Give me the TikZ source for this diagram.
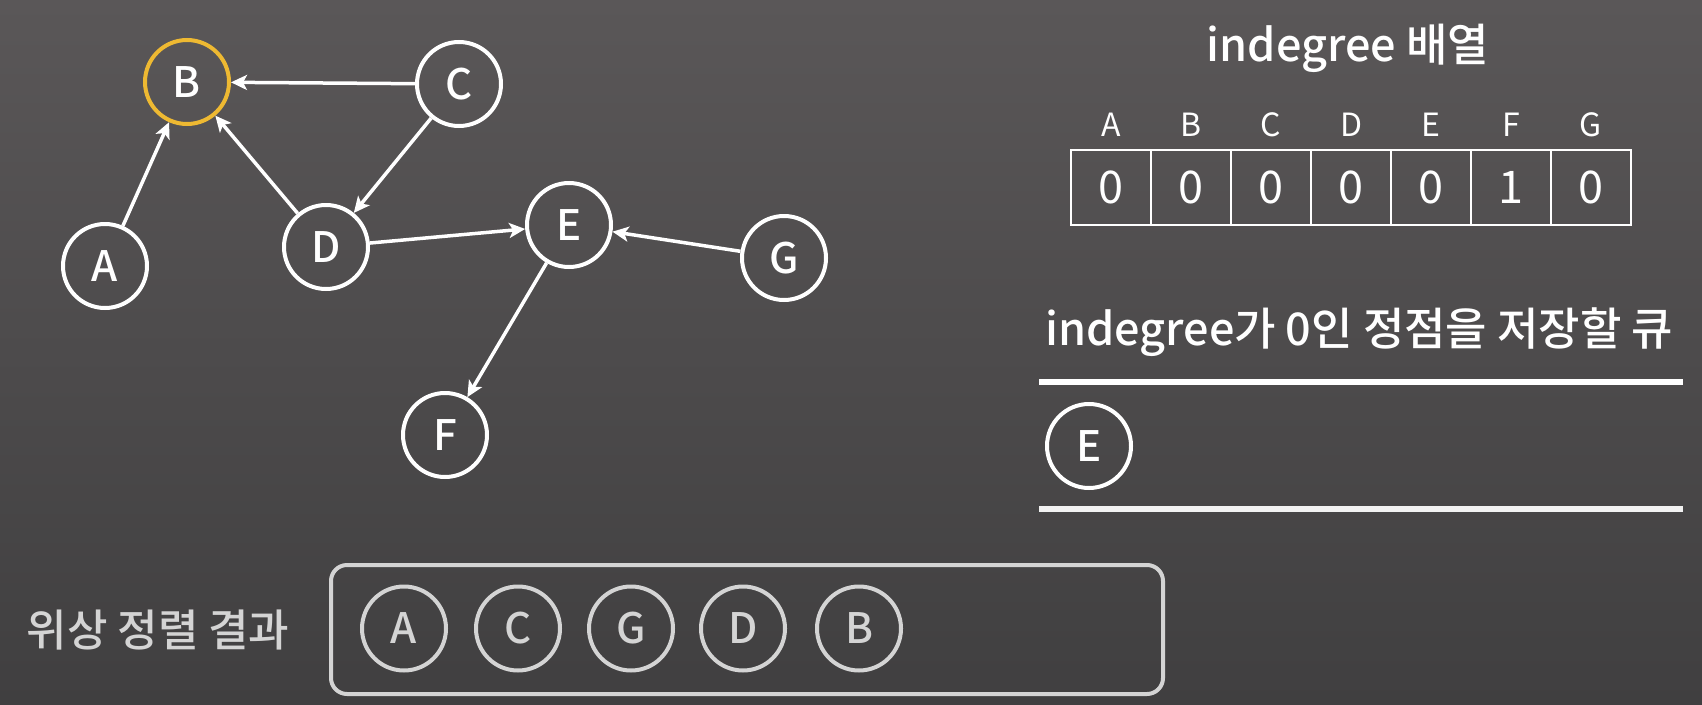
\documentclass[tikz,border=0pt]{standalone}
\usepackage{fontspec}
\setmainfont{Noto Sans CJK KR}[UprightFont={* Medium}]
\newfontfamily\regfont{Noto Sans CJK KR}
\usetikzlibrary{arrows.meta}
\definecolor{bgtop}{RGB}{90,87,88}
\definecolor{bgbot}{RGB}{64,63,64}
\definecolor{gold}{RGB}{238,185,50}
\definecolor{lgray}{RGB}{212,212,212}
\begin{document}
\begin{tikzpicture}[x=1pt,y=-1pt,
  vtx/.style={circle, draw=white, line width=4pt, minimum size=84pt, inner sep=0pt, text=white, font=\fontsize{42}{42}\selectfont},
  hl/.style={draw=gold},
  res/.style={vtx, draw=lgray, text=lgray},
  edge/.style={draw=white, line width=3.5pt, -{Stealth[length=16pt,width=15pt,inset=4pt]}},
  cell/.style={draw=white, line width=2pt, minimum width=80pt, minimum height=75pt, inner sep=0pt, text=white, font=\regfont\fontsize{45}{45}\selectfont},
  hdr/.style={text=white, font=\regfont\fontsize{32}{32}\selectfont, inner sep=0pt},
  title/.style={text=white, font=\fontsize{45}{45}\selectfont, inner sep=0pt},
  qline/.style={draw=white, line width=6pt}
]
\shade[top color=bgtop, bottom color=bgbot] (0,0) rectangle (1702,704);
\useasboundingbox (0,0) rectangle (1702,704);

% graph
\node[vtx] (A) at (105,266) {A};
\node[vtx,hl] (B) at (187,82) {B};
\node[vtx] (C) at (459,84) {C};
\node[vtx] (D) at (326,247) {D};
\node[vtx] (E) at (569,225) {E};
\node[vtx] (F) at (445,435) {F};
\node[vtx] (G) at (784,258) {G};
\draw[edge] (C) -- (B);
\draw[edge] (A) -- (B);
\draw[edge] (D) -- (B);
\draw[edge] (C) -- (D);
\draw[edge] (D) -- (E);
\draw[edge] (G) -- (E);
\draw[edge] (E) -- (F);

% indegree array
\node[title, anchor=base] (t1) at (1348,61) {indegree 배열};
\foreach \l/\v [count=\i] in {A/0,B/0,C/0,D/0,E/0,F/1,G/0}{
  \node[cell] (cell\l) at ({1071+80*\i-40},187.5) {\v};
  \node[hdr] (h\l) at ({1071+80*\i-40},125) {\l};
}

% queue
\node[title, anchor=base west] (t2) at (1045,345) {indegree가 0인 정점을 저장할 큐};
\draw[qline] (1039,382) -- (1683,382);
\draw[qline, draw=white!90!gray] (1039,509) -- (1683,509);
\node[vtx] (qE) at (1089,446) {E};

% result
\node[text=lgray, font=\fontsize{44}{44}\selectfont, inner sep=0pt] (rlabel) at (158,630) {위상 정렬 결과};
\draw[lgray, line width=4pt, rounded corners=16pt] (331,565) rectangle (1163,694);
\node[res] (rA) at (404,628.5) {A};
\node[res] (rC) at (518,628.5) {C};
\node[res] (rG) at (631,628.5) {G};
\node[res] (rD) at (743,628.5) {D};
\node[res] (rB) at (859,628.5) {B};
\end{tikzpicture}
\end{document}
